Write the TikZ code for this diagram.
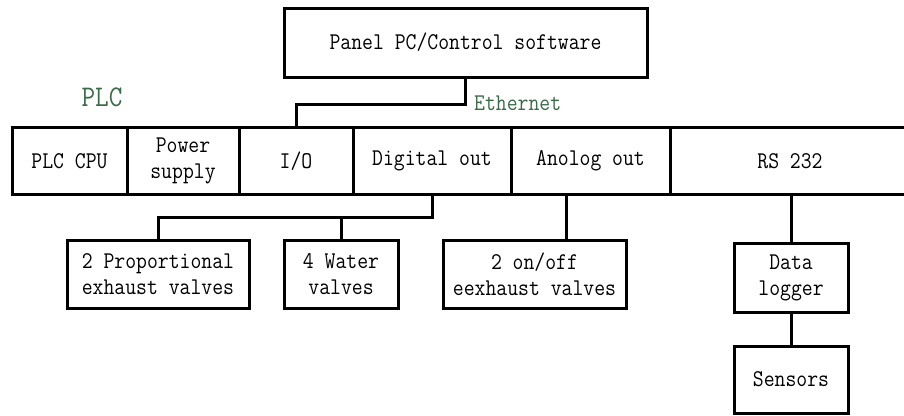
\documentclass[tikz,border=0pt]{standalone}
\usepackage{fontspec}
\setmonofont{Latin Modern Mono}[FakeStretch=0.88]
\definecolor{labelgreen}{HTML}{3A6A48}
\tikzset{
  every node/.style={font=\ttfamily\fontsize{24}{26}\selectfont},
  box/.style={draw=black, line width=3pt, rectangle, inner sep=0pt, align=center},
  cell/.style={box, minimum height=67.5pt},
  wire/.style={draw=black, line width=3pt, line join=miter},
  tag/.style={text=labelgreen, inner sep=0pt}
}
\begin{document}
\begin{tikzpicture}[x=1pt, y=-1pt]
  \useasboundingbox (0,0) rectangle (904,415);
  \clip (0,0) rectangle (904,415);

  % host computer
  \node[box, minimum width=363pt, minimum height=69pt] (panel) at (465.5,42.5) {Panel PC/Control software};

  % PLC rack modules
  \node[cell, minimum width=115pt] (cpu)   at (69.5,161)  {PLC CPU};
  \node[cell, minimum width=112pt] (power) at (183,161)   {Power\\supply};
  \node[cell, minimum width=114pt] (io)    at (296,161)   {I/O};
  \node[cell, minimum width=158pt] (dig)   at (432,161)   {Digital out};
  \node[cell, minimum width=159pt] (ana)   at (590.5,161) {Anolog out};
  \node[cell, minimum width=240pt] (rs)    at (790,161)   {RS 232};

  \node[tag, font=\ttfamily\fontsize{30}{32}\selectfont] (plc) at (102,97) {PLC};
  \node[tag, anchor=west] (eth) at (474,103) {Ethernet};

  % field devices
  \node[box, minimum width=182pt, minimum height=68pt] (prop)   at (158,274)   {2 Proportional\\exhaust valves};
  \node[box, minimum width=114pt, minimum height=68pt] (water)  at (341,274)   {4 Water\\valves};
  \node[box, minimum width=183pt, minimum height=68pt] (onoff)  at (534.5,274) {2 on/off\\eexhaust valves};
  \node[box, minimum width=114pt, minimum height=69pt] (logger) at (791,277.5) {Data\\logger};
  \node[box, minimum width=114pt, minimum height=67pt] (sensor) at (791,379.5) {Sensors};

  % routing points
  \coordinate (ethx)  at (465,104);
  \coordinate (dbus)  at (432,217);
  \coordinate (akink) at (566,217);

  % connections
  \draw[wire] (panel.south -| ethx) -- (ethx) -| (io.north);
  \draw[wire] (dig.south) -- (dbus) -| (prop.north);
  \draw[wire] (water.north) -- (water.north |- dbus);
  \draw[wire] (ana.south -| akink) -- (onoff.north -| akink);
  \draw[wire] (logger.north |- rs.south) -- (logger.north);
  \draw[wire] (logger.south) -- (sensor.north);
\end{tikzpicture}
\end{document}
